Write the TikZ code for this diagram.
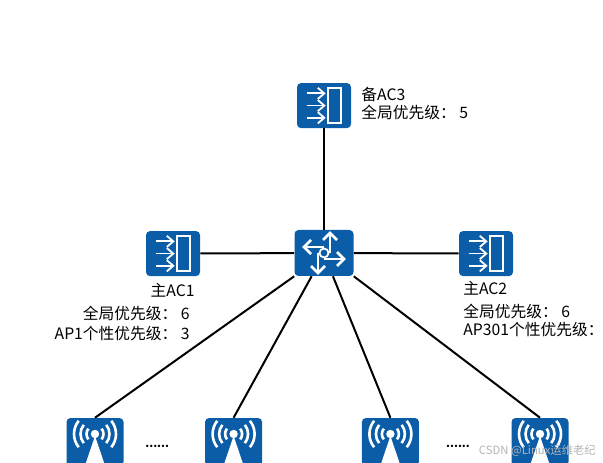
\documentclass[tikz,border=0pt]{standalone}
\usepackage{xcolor}
\usepackage{fontspec}
\setmainfont{Noto Sans CJK SC}
\usetikzlibrary{arrows.meta, positioning, calc}
\definecolor{devblue}{HTML}{0C5DA8}
\definecolor{markgray}{HTML}{B4B4B4}
\tikzstyle{device} = [draw=none, fill=devblue, rounded corners=0.1cm, inner sep=0pt, minimum width=1.35cm, minimum height=1.125cm]
\tikzstyle{apbox} = [device, minimum width=1.425cm, minimum height=1.2cm]
\tikzstyle{link} = [line width=0.05cm, color=black]
\tikzstyle{iconline} = [line width=0.045cm, color=white]
\tikzstyle{boldline} = [line width=0.065cm, color=white]
\tikzstyle{lab} = [inner sep=0pt, font=\fontsize{11.2}{13}\selectfont, text=black]
\tikzset{
    pics/acicon/.style={code={
        \begin{scope}[x=0.025cm, y=0.025cm]
            \draw[iconline] (3.7,-17.8) rectangle (17,17.8);
            \foreach \ypos in {-12.2,0,12.2} {
                \draw[iconline] (-17.3,\ypos) -- (0.3,\ypos);
                \draw[iconline] (-6.2,\ypos+5.6) -- (0.3,\ypos) -- (-6.2,\ypos-5.6);
            }
        \end{scope}
    }},
    pics/swicon/.style={code={
        \begin{scope}[x=0.025cm, y=0.025cm]
            \foreach \rot in {0,90,180,270} {
                \draw[boldline, rotate=\rot] (6,0) -- (6,19);
                \draw[boldline, rotate=\rot] (-1,13) -- (6,20) -- (13,13);
            }
            \draw[iconline, fill=devblue] (0,0) circle (4.5);
        \end{scope}
    }},
    pics/apicon/.style={code={
        \begin{scope}[x=0.025cm, y=0.025cm]
            \fill[white] (0,6) -- (9.5,-22) -- (-9.5,-22) -- cycle;
            \fill[white] (0,8) circle (4.2);
            \foreach \rad in {8.5,14.5,21} {
                \draw[boldline] (0,8) ++(-39:\rad) arc[start angle=-39, end angle=39, radius=\rad];
                \draw[boldline] (0,8) ++(141:\rad) arc[start angle=141, end angle=219, radius=\rad];
            }
        \end{scope}
    }}
}

\begin{document}
\begin{tikzpicture}
    \clip (0,0) rectangle (15.075,11.55);

    \node[device] (ac3) at (8.1,8.91) {};
    \node[device, minimum width=1.475cm, minimum height=1.15cm] (sw) at (8.1,5.225) {};
    \node[device] (ac1) at (4.325,5.21) {};
    \node[device] (ac2) at (12.15,5.21) {};

    \node[apbox] (ap1) at (2.375,0.5) {};
    \node[apbox] (ap2) at (5.84,0.5) {};
    \node[apbox] (ap3) at (9.76,0.5) {};
    \node[apbox] (ap4) at (13.5,0.5) {};

    \draw[link] (sw) -- (ac3);
    \draw[link] (sw) -- (ac1);
    \draw[link] (sw) -- (ac2);
    \draw[link] (sw.south west) -- (ap1.north);
    \draw[link] (sw.242) -- (ap2.north);
    \draw[link] (sw.291) -- (ap3.north);
    \draw[link] (sw.south east) -- (ap4.north);

    \pic at (ac3) {acicon};
    \pic at (ac1) {acicon};
    \pic at (ac2) {acicon};
    \pic at (sw) {swicon};
    \pic at (ap1) {apicon};
    \pic at (ap2) {apicon};
    \pic at (ap3) {apicon};
    \pic at (ap4) {apicon};

    \node[lab, anchor=west] (t3a) at (9.03,9.2) {备AC3};
    \node[lab, anchor=west] (t3b) at (9.03,8.75) {全局优先级： 5};

    \node[lab, anchor=east] (t1a) at (4.87,4.3) {主AC1};
    \node[lab, anchor=east] (t1b) at (4.75,3.72) {全局优先级： 6};
    \node[lab, anchor=east] (t1c) at (4.75,3.22) {AP1个性优先级： 3};

    \node[lab, anchor=west] (t2a) at (11.575,4.35) {主AC2};
    \node[lab, anchor=west] (t2b) at (11.575,3.77) {全局优先级：  6};
    \node[lab, anchor=west] (t2c) at (11.575,3.3) {AP301个性优先级：};

    \node[lab, font=\fontsize{8}{10}\selectfont\bfseries] (dots1) at (3.93,0.38) {......};
    \node[lab, font=\fontsize{8}{10}\selectfont\bfseries] (dots2) at (11.45,0.38) {......};

    \node[inner sep=0pt, anchor=east, text=markgray, font=\fontsize{8.05}{10}\selectfont] (mark) at (14.9,0.28) {CSDN @Linux运维老纪};
\end{tikzpicture}
\end{document}
